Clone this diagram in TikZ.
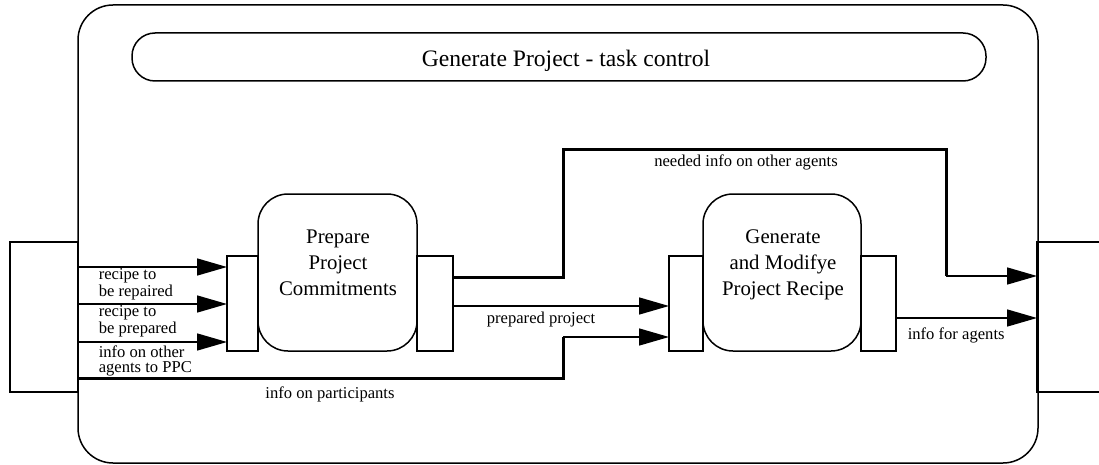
\documentclass[tikz,border=0pt]{standalone}
\usepackage{fontspec}
\setmainfont{Liberation Serif}
\usetikzlibrary{arrows.meta}
\begin{document}
\begin{tikzpicture}[x=1pt,y=-1pt,
  line width=1.5pt,
  box/.style={draw,line width=1.5pt,inner sep=0pt,outer sep=0pt},
  portbox/.style={box,minimum width=#1,minimum height=95pt},
  procbox/.style={box,rounded corners=30pt,minimum width=158pt,minimum height=157pt},
  proctext/.style={inner sep=0pt,align=center,font=\fontsize{20.8}{26}\selectfont},
  lbl/.style={inner sep=0pt,font=\fontsize{16.6}{15}\selectfont},
  arr/.style={-{Triangle[length=30pt,width=17pt]},line width=1.5pt},
  thick flow/.style={line width=3pt}
]
\clip (0,0) rectangle (1099,465);
% outer box and title
\node[box,rounded corners=35pt,minimum width=960pt,minimum height=458pt] (outer) at (558,234) {};
\node[box,rounded corners=23pt,minimum width=854pt,minimum height=48pt] (title) at (559,57) {};
\node[inner sep=0pt,font=\fontsize{23.6}{26}\selectfont,anchor=base] (titlet) at (566,67) {Generate Project - task control};
% external boxes
\node[box,minimum width=68pt,minimum height=150pt] (leftext) at (44,317) {};
\node[box,minimum width=90pt,minimum height=150pt] (rightext) at (1082,317) {};
% PPC
\node[portbox=31pt] (ppcin) at (242.5,303.5) {};
\node[procbox,minimum width=159pt] (ppc) at (337.5,272.5) {};
\node[portbox=36pt] (ppcout) at (435,303.5) {};
\node[proctext,anchor=base] (ppct) at (338,295) {Prepare\\Project\\Commitments};
% GMPR
\node[portbox=34pt] (gmin) at (686,303.5) {};
\node[procbox] (gm) at (782,272.5) {};
\node[portbox=35pt] (gmout) at (878.5,303.5) {};
\node[proctext,anchor=base] (gmt) at (783,295) {Generate\\and Modifye\\Project Recipe};
% coordinates for bends
\coordinate (b1) at (563,277);
\coordinate (b2) at (563,150);
\coordinate (b3) at (946,150);
\coordinate (b4) at (946,276);
\coordinate (c1) at (563,378);
\coordinate (c2) at (563,337);
% inputs to PPC
\draw[arr] (leftext.east |- 0,267) -- (ppcin.west |- 0,267);
\draw[arr] (leftext.east |- 0,304) -- (ppcin.west |- 0,304);
\draw[arr] (leftext.east |- 0,342) -- (ppcin.west |- 0,342);
% info on participants
\draw[thick flow] (leftext.east |- c1) -- (c1) -- (c2);
\draw[arr] (c2) -- (gmin.west |- c2);
% prepared project
\draw[arr] (ppcout.east |- 0,306) -- (gmin.west |- 0,306);
% needed info
\draw[thick flow] (ppcout.east |- b1) -- (b1) -- (b2) -- (b3) -- (b4);
\draw[arr] (b4) -- (rightext.west |- b4);
% info for agents
\draw[arr] (gmout.east |- 0,318) -- (rightext.west |- 0,318);
% labels
\node[lbl,anchor=base west,align=left] (l1) at (98,296) {recipe to\\be repaired};
\node[lbl,anchor=base west,align=left] (l2) at (98,333) {recipe to\\be prepared};
\node[lbl,anchor=base west,align=left] (l3) at (98,372) {info on other\\agents to PPC};
\node[lbl,anchor=base] (l4) at (330,398) {info on participants};
\node[lbl,anchor=base] (l5) at (541,323) {prepared project};
\node[lbl,anchor=base] (l6) at (746,167) {needed info on other agents};
\node[lbl,anchor=base west] (l7) at (907,339) {info for agents};
\end{tikzpicture}
\end{document}
